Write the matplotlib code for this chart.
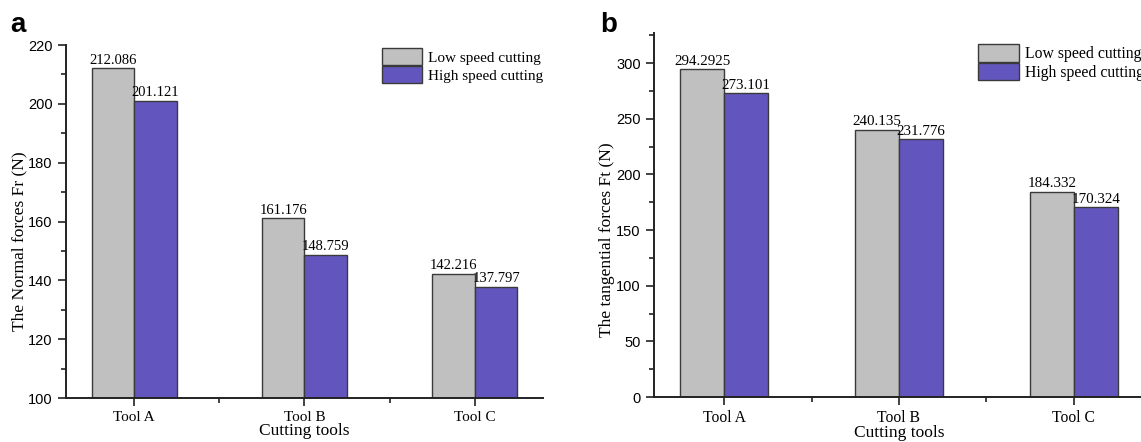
import numpy as np
import matplotlib.pyplot as plt
from matplotlib.ticker import MultipleLocator, FixedLocator

tools = ['Tool A', 'Tool B', 'Tool C']
series_names = ['Low speed cutting', 'High speed cutting']

# normal forces Fr (N)
normal_low = [212.086, 161.176, 142.216]
normal_high = [201.121, 148.759, 137.797]
normal_low_txt = ['212.086', '161.176', '142.216']
normal_high_txt = ['201.121', '148.759', '137.797']

# tangential forces Ft (N)
tang_low = [294.2925, 240.135, 184.332]
tang_high = [273.101, 231.776, 170.324]
tang_low_txt = ['294.2925', '240.135', '184.332']
tang_high_txt = ['273.101', '231.776', '170.324']

gray = '#c0c0c0'
purple = '#6256be'
edge = '#3a3a3a'

sans = 'Liberation Sans'
serif = 'Liberation Serif'

fig = plt.figure(figsize=(11.41, 4.42), dpi=100)
ax1 = fig.add_axes([0.0578, 0.0995, 0.418, 0.7986])
ax2 = fig.add_axes([0.5732, 0.1018, 0.4294, 0.8235])


def draw(ax, low, high, low_txt, high_txt, ylim, major, minor, ylabel, ylabel_pos,
         letter, letter_pos, leg_pos, fs):
    x = np.arange(1, len(tools) + 1)
    w = 0.25
    ax.bar(x - w, np.array(low) - ylim[0], w, bottom=ylim[0], align='edge',
           color=gray, edgecolor=edge, linewidth=1, label=series_names[0])
    ax.bar(x, np.array(high) - ylim[0], w, bottom=ylim[0], align='edge',
           color=purple, edgecolor=edge, linewidth=1, label=series_names[1])
    off = (ylim[1] - ylim[0]) * 0.004
    for xi, v, t in zip(x, low, low_txt):
        ax.text(xi - w / 2, v + off, t, ha='center', va='bottom',
                family=serif, fontsize=fs)
    for xi, v, t in zip(x, high, high_txt):
        ax.text(xi + w / 2, v + off, t, ha='center', va='bottom',
                family=serif, fontsize=fs)

    ax.set_xlim(0.6, 3.4)
    ax.set_ylim(*ylim)
    ax.set_xticks(x)
    ax.set_xticklabels(tools, family=serif, fontsize=fs + 0.5)
    ax.xaxis.set_minor_locator(FixedLocator([1.5, 2.5]))
    ax.yaxis.set_major_locator(MultipleLocator(major))
    ax.yaxis.set_minor_locator(MultipleLocator(minor))
    for lab in ax.get_yticklabels():
        lab.set_family(sans)
        lab.set_fontsize(10.5)
    ax.tick_params(direction='out', length=6, width=1.2, color='#222222', pad=3.5)
    ax.tick_params(which='minor', direction='out', length=3.5, width=1.2, color='#222222')
    for s in ['top', 'right']:
        ax.spines[s].set_visible(False)
    for s in ['left', 'bottom']:
        ax.spines[s].set_linewidth(1.4)
        ax.spines[s].set_color('#222222')
    ax.set_xlabel('Cutting tools', family=serif, fontsize=12.5, labelpad=-1)
    ax.set_ylabel(ylabel, family=serif, fontsize=12.5)
    ax.yaxis.set_label_coords(*ylabel_pos)
    ax.legend(loc='upper left', bbox_to_anchor=leg_pos, frameon=False,
              prop={'family': serif, 'size': fs + 0.5}, handlelength=2.65, handleheight=1.35,
              handletextpad=0.35, labelspacing=0.05, borderaxespad=0, borderpad=0)
    ax.text(letter_pos[0], letter_pos[1], letter, transform=ax.transAxes, fontsize=20,
            fontweight='bold', family=sans, va='baseline')


draw(ax1, normal_low, normal_high, normal_low_txt, normal_high_txt,
     (100, 220), 20, 10, 'The Normal forces Fr (N)', (-0.08, 0.445),
     'a', (-0.117, 1.037), (0.6625, 0.9915), 10.5)
draw(ax2, tang_low, tang_high, tang_low_txt, tang_high_txt,
     (0, 327), 50, 25, 'The tangential forces Ft (N)', (-0.08, 0.431),
     'b', (-0.110, 1.003), (0.661, 0.970), 10.8)

fig.savefig('out.png', dpi=100)
